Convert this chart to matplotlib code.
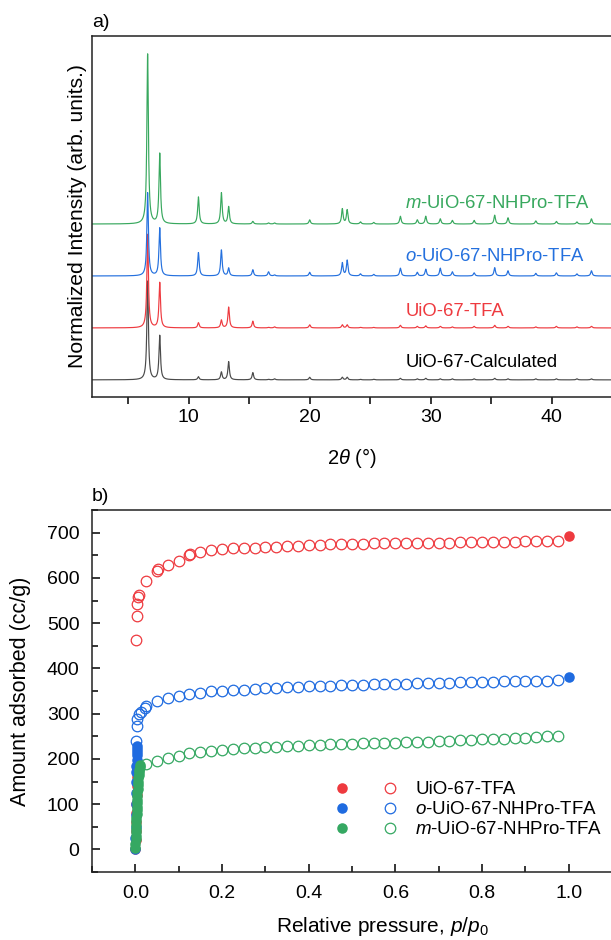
import numpy as np
import matplotlib
matplotlib.use('Agg')
import matplotlib.pyplot as plt
from matplotlib.legend_handler import HandlerTuple
from matplotlib.ticker import MultipleLocator

plt.rcParams['font.family'] = ['Liberation Sans', 'DejaVu Sans']
plt.rcParams['mathtext.fontset'] = 'custom'
plt.rcParams['mathtext.rm'] = 'Liberation Sans'
plt.rcParams['mathtext.it'] = 'Liberation Sans:italic'

# ---- a) PXRD: peak positions (2theta) and heights ----
peak_pos = [6.6, 7.6, 10.8, 12.7, 13.3, 15.3, 16.6, 17.1, 20.0, 22.7, 23.1, 24.2,
            25.3, 27.5, 28.9, 29.6, 30.8, 31.8, 33.6, 35.3, 36.4, 38.7, 40.4, 42.1, 43.3]
h_calc = [1.9, 0.85, 0.06, 0.15, 0.35, 0.14, 0.01, 0.02, 0.05, 0.05, 0.05, 0.01,
          0.01, 0.03, 0.02, 0.03, 0.02, 0.02, 0.02, 0.03, 0.02, 0.02, 0.02, 0.02, 0.02]
h_tfa = [1.8, 0.87, 0.10, 0.15, 0.40, 0.13, 0.01, 0.02, 0.06, 0.06, 0.06, 0.01,
         0.01, 0.05, 0.03, 0.04, 0.03, 0.02, 0.03, 0.05, 0.03, 0.02, 0.03, 0.02, 0.03]
h_ortho = [1.6, 0.92, 0.45, 0.50, 0.15, 0.12, 0.08, 0.02, 0.07, 0.25, 0.30, 0.04,
           0.03, 0.15, 0.07, 0.13, 0.15, 0.08, 0.06, 0.16, 0.10, 0.05, 0.06, 0.04, 0.10]
h_meta = [3.27, 1.35, 0.52, 0.60, 0.33, 0.05, 0.02, 0.02, 0.08, 0.29, 0.27, 0.04,
          0.03, 0.15, 0.08, 0.15, 0.10, 0.07, 0.07, 0.17, 0.12, 0.06, 0.05, 0.04, 0.10]
xrd_names = ['UiO-67-Calculated', 'UiO-67-TFA', r'$\it{o}$-UiO-67-NHPro-TFA', r'$\it{m}$-UiO-67-NHPro-TFA']
xrd_colors = ['#4a4a4a', '#ee3a3f', '#2470de', '#38a85e']

# ---- b) N2 isotherms ----
p_open = [0.025, 0.05, 0.075, 0.1, 0.125, 0.15, 0.175, 0.2, 0.225, 0.25, 0.275, 0.3, 0.325,
          0.35, 0.375, 0.4, 0.425, 0.45, 0.475, 0.5, 0.525, 0.55, 0.575, 0.6, 0.625, 0.65,
          0.675, 0.7, 0.725, 0.75, 0.775, 0.8, 0.825, 0.85, 0.875, 0.9, 0.925, 0.95, 0.975]
tfa_open = [594, 616, 628, 638, 651, 657, 661, 664, 665, 666, 667, 668, 669,
            670, 671, 672, 673, 674, 674, 675, 675, 676, 676, 677, 677, 677,
            678, 678, 678, 679, 679, 679, 680, 680, 680, 681, 681, 681, 682]
ortho_open = [317, 328, 334, 339, 343, 346, 349, 350, 352, 353, 355, 356, 357,
              358, 359, 360, 361, 362, 363, 363, 364, 365, 365, 366, 366, 367,
              367, 368, 368, 369, 369, 370, 370, 371, 371, 372, 372, 373, 374]
meta_open = [188, 196, 202, 207, 212, 215, 218, 220, 222, 224, 225, 226, 227,
             228, 229, 230, 231, 232, 232, 233, 234, 235, 235, 236, 237, 238,
             238, 239, 240, 241, 242, 243, 244, 245, 246, 247, 248, 250, 251]
# low pressure open points
tfa_low_p = [0.002, 0.004, 0.005, 0.007, 0.009, 0.052, 0.127]
tfa_low = [462, 516, 542, 557, 563, 619, 653]
ortho_low_p = [0.001, 0.003, 0.005, 0.008, 0.012, 0.023]
ortho_low = [239, 272, 288, 299, 303, 312]
# filled points (micropore filling + end point)
tfa_fill_p = [0.0, 0.0005, 0.001, 0.0015, 0.002, 0.0025, 0.003, 0.0035, 0.004, 0.005, 0.006, 1.0]
tfa_fill = [0, 20, 40, 60, 80, 100, 120, 140, 160, 175, 188, 692]
ortho_fill_p = [0.0, 0.0003, 0.0006, 0.0009, 0.0012, 0.0015, 0.0018, 0.0021, 0.0024,
                0.0027, 0.003, 0.0033, 0.0036, 0.004, 1.0]
ortho_fill = [0, 25, 50, 75, 100, 125, 150, 170, 185, 198, 208, 216, 222, 228, 381]
meta_fill_p = [0.0, 0.0003, 0.0006, 0.0009, 0.0012, 0.0015, 0.0018, 0.0021, 0.0024, 0.0027,
               0.003, 0.0034, 0.0038, 0.0042, 0.0046, 0.005, 0.0055, 0.006, 0.0066, 0.0072,
               0.0078, 0.0085, 0.0093, 0.0102, 0.0112]
meta_fill = [2, 12, 22, 30, 38, 46, 54, 62, 70, 78, 86, 94, 102, 110, 118, 126, 134,
             142, 150, 157, 164, 170, 176, 181, 186]

iso_names = ['UiO-67-TFA', r'$\it{o}$-UiO-67-NHPro-TFA', r'$\it{m}$-UiO-67-NHPro-TFA']
iso_colors = ['#ee3a3f', '#1f6be0', '#35a862']

W, H = 611, 940
fig = plt.figure(figsize=(W / 100, H / 100), dpi=100)

def fax(l, t, r, b):
    return fig.add_axes([l / W, 1 - b / H, (r - l) / W, (b - t) / H])

# ---------------- panel a ----------------
ax1 = fax(92, 36, 612, 397)
tt = np.linspace(2, 45, 9000)
w = 0.075  # lorentzian half width used to draw the reflections
for k, hs in enumerate([h_calc, h_tfa, h_ortho, h_meta]):
    y = np.zeros_like(tt)
    for p, hgt in zip(peak_pos, hs):
        y += hgt * w ** 2 / ((tt - p) ** 2 + w ** 2)
    ax1.plot(tt, y + k, color=xrd_colors[k], lw=0.85)
label_y = [0.33, 1.31, 2.37, 3.40]
for k in range(4):
    ax1.text(27.9, label_y[k], xrd_names[k], color=xrd_colors[k] if k else 'black',
             fontsize=13.3, va='center', ha='left')
ax1.set_xlim(2, 45)
ax1.set_ylim(-0.33, 6.62)
ax1.set_yticks([])
ax1.xaxis.set_major_locator(MultipleLocator(10))
ax1.xaxis.set_minor_locator(MultipleLocator(5))
ax1.tick_params(axis='x', which='both', direction='out', length=5, width=1.1, labelsize=14)
ax1.spines['right'].set_visible(False)
ax1.set_xlabel(r'2$\it{\theta}$ (°)', fontsize=14.5)
ax1.xaxis.set_label_coords(0.5, -0.135)
ax1.set_ylabel('Normalized Intensity (arb. units.)', fontsize=15.2)
ax1.yaxis.set_label_coords(-0.01, 0.5)
ax1.text(0.0, 1.015, 'a)', transform=ax1.transAxes, fontsize=14, va='bottom')

# ---------------- panel b ----------------
ax2 = fax(92, 510, 612, 872)
ms = 7.6
fills = [(tfa_fill_p, tfa_fill), (ortho_fill_p, ortho_fill), (meta_fill_p, meta_fill)]
opens = [(tfa_low_p + p_open, tfa_low + tfa_open),
         (ortho_low_p + p_open, ortho_low + ortho_open),
         (p_open, meta_open)]
handles = []
for k in range(3):
    hf, = ax2.plot(fills[k][0], fills[k][1], 'o', color=iso_colors[k], ms=ms, mew=0, ls='none')
    ho, = ax2.plot(opens[k][0], opens[k][1], 'o', mfc='none', mec=iso_colors[k], ms=ms, mew=0.9, ls='none')
    handles.append((hf, ho))
ax2.set_xlim(-0.1, 1.1)
ax2.set_ylim(-50, 750)
ax2.xaxis.set_major_locator(MultipleLocator(0.2))
ax2.xaxis.set_minor_locator(MultipleLocator(0.1))
ax2.yaxis.set_major_locator(MultipleLocator(100))
ax2.yaxis.set_minor_locator(MultipleLocator(50))
ax2.tick_params(which='major', direction='in', length=6, width=1.1, labelsize=14)
ax2.tick_params(which='minor', direction='in', length=4, width=1.1)
ax2.tick_params(axis='x', pad=9)
ax2.tick_params(axis='y', pad=9)
ax2.spines['right'].set_visible(False)
ax2.set_xlabel(r'Relative pressure, $\it{p}$/$\it{p}_{\mathrm{0}}$', fontsize=15)
ax2.xaxis.set_label_coords(0.559, -0.118)
ax2.set_ylabel('Amount adsorbed (cc/g)', fontsize=15.5)
ax2.yaxis.set_label_coords(-0.117, 0.5)
ax2.text(0.0, 1.015, 'b)', transform=ax2.transAxes, fontsize=14, va='bottom')
ax2.legend(handles, iso_names, handler_map={tuple: HandlerTuple(ndivide=None, pad=1.0)},
           loc='upper left', bbox_to_anchor=(0.4536, 0.251), frameon=False, fontsize=13.5,
           handlelength=4.1, handletextpad=0.55, labelspacing=0.15, borderpad=0, borderaxespad=0)

for ax in (ax1, ax2):
    for s in ax.spines.values():
        s.set_linewidth(1.1)
        s.set_color('#222222')

fig.savefig('out.png', dpi=100)
